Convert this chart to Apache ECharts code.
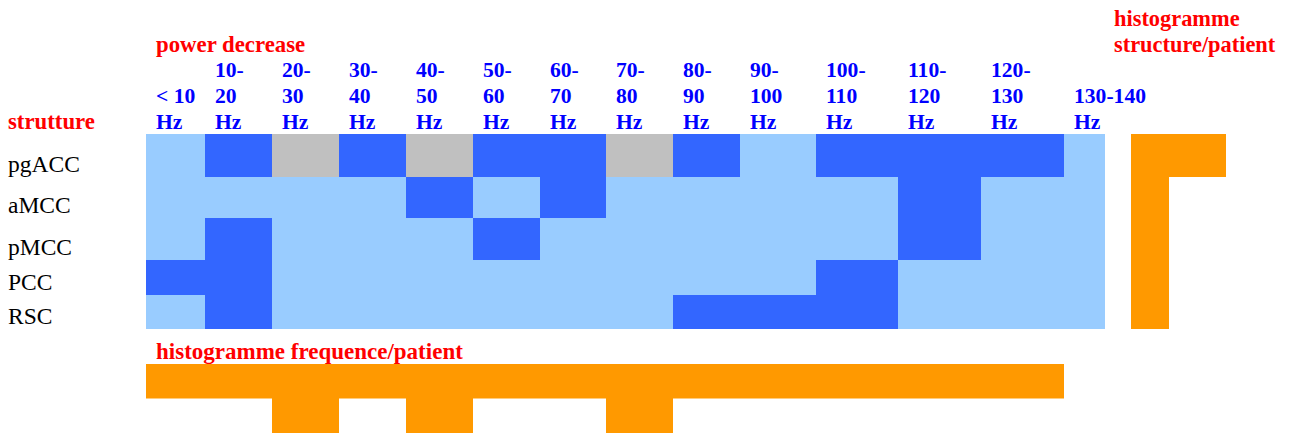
<!DOCTYPE html>
<html>
<head>
<meta charset="utf-8">
<script src="https://cdn.jsdelivr.net/npm/echarts@6/dist/echarts.min.js"></script>
<style>
html,body{margin:0;padding:0;background:#fff;}
#chart{width:1290px;height:435px;}
</style>
</head>
<body>
<div id="chart"></div>
<script>
// ---------- DATA ----------
const structures = ['pgACC', 'aMCC', 'pMCC', 'PCC', 'RSC'];
const freqLabels = ['< 10\nHz', '10-\n20\nHz', '20-\n30\nHz', '30-\n40\nHz', '40-\n50\nHz', '50-\n60\nHz',
  '60-\n70\nHz', '70-\n80\nHz', '80-\n90\nHz', '90-\n100\nHz', '100-\n110\nHz', '110-\n120\nHz',
  '120-\n130\nHz', '130-140\nHz'];
// 0 = no decrease, 1 = power decrease, 2 = not available
const pgACC = [0, 1, 2, 1, 2, 1, 1, 2, 1, 0, 1, 1, 1, 0];
const aMCC  = [0, 0, 0, 0, 1, 0, 1, 0, 0, 0, 0, 1, 0, 0];
const pMCC  = [0, 1, 0, 0, 0, 1, 0, 0, 0, 0, 0, 1, 0, 0];
const PCC   = [1, 1, 0, 0, 0, 0, 0, 0, 0, 0, 1, 0, 0, 0];
const RSC   = [0, 1, 0, 0, 0, 0, 0, 0, 1, 1, 1, 0, 0, 0];
const freqPerPatient = [1, 1, 2, 1, 2, 1, 1, 2, 1, 1, 1, 1, 1, 0];
const structPerPatient = [2.5, 1, 1, 1, 1];

// ---------- LAYOUT (table geometry, not data) ----------
const colWidths = [59, 67, 67, 67, 67, 67, 66, 67, 67, 76, 82, 83, 83, 41];
const rowHeights = [43, 41, 42, 35, 34];
const colEdges = [0]; colWidths.forEach(w => colEdges.push(colEdges[colEdges.length - 1] + w));
const rowEdges = [0]; rowHeights.forEach(h => rowEdges.push(rowEdges[rowEdges.length - 1] + h));
const totalW = colEdges[colEdges.length - 1];
const totalH = rowEdges[rowEdges.length - 1];

const cellColors = ['#99CCFF', '#3366FF', '#C0C0C0'];
const SERIF = '"Liberation Serif", "Times New Roman", serif';
const RED = '#FF0000', BLUE = '#0000FF', ORANGE = '#FF9900';
const TITLE_FONT = 'bold 22.8px ' + SERIF;

const rows = [pgACC, aMCC, pMCC, PCC, RSC];
const heatData = [];
rows.forEach((r, ri) => r.forEach((v, ci) => heatData.push([ci, ri, v])));

const chart = echarts.init(document.getElementById('chart'), null, {renderer: 'svg'});

const option = {
  animation: false,
  backgroundColor: '#ffffff',
  grid: [
    {left: 146, top: 134, width: totalW, height: totalH},
    {left: 1131, top: 134, width: 95, height: totalH},
    {left: 146, top: 364, width: totalW, height: 69}
  ],
  xAxis: [
    {gridIndex: 0, type: 'value', min: 0, max: totalW, show: false},
    {gridIndex: 1, type: 'value', min: 0, max: 2.5, show: false},
    {gridIndex: 2, type: 'value', min: 0, max: totalW, show: false}
  ],
  yAxis: [
    {gridIndex: 0, type: 'value', min: 0, max: totalH, inverse: true, show: false},
    {gridIndex: 1, type: 'value', min: 0, max: totalH, inverse: true, show: false},
    {gridIndex: 2, type: 'value', min: 0, max: 2, inverse: true, show: false}
  ],
  graphic: [
    {type: 'text', x: 156, y: 44.3, silent: true,
      style: {text: 'power decrease', font: TITLE_FONT, fill: RED, textAlign: 'left', textVerticalAlign: 'middle'}},
    {type: 'text', x: 8, y: 121.8, silent: true,
      style: {text: 'strutture', font: TITLE_FONT, fill: RED, textAlign: 'left', textVerticalAlign: 'middle'}},
    {type: 'text', x: 1114, y: 57.5, silent: true,
      style: {text: 'histogramme\nstructure/patient', font: 'bold 22.4px ' + SERIF, lineHeight: 26, fill: RED, textAlign: 'left', textVerticalAlign: 'bottom'}},
    {type: 'text', x: 156, y: 351.6, silent: true,
      style: {text: 'histogramme frequence/patient', font: 'bold 23px ' + SERIF, fill: RED, textAlign: 'left', textVerticalAlign: 'middle'}}
  ],
  series: [
    {
      type: 'custom', xAxisIndex: 0, yAxisIndex: 0, silent: true,
      data: heatData,
      renderItem: function (params, api) {
        const ci = api.value(0), ri = api.value(1), v = api.value(2);
        const p0 = api.coord([colEdges[ci], rowEdges[ri]]);
        const p1 = api.coord([colEdges[ci + 1], rowEdges[ri + 1]]);
        return {type: 'rect', shape: {x: p0[0], y: p0[1], width: p1[0] - p0[0], height: p1[1] - p0[1]},
          style: {fill: cellColors[v]}};
      }
    },
    {
      type: 'custom', xAxisIndex: 0, yAxisIndex: 0, silent: true,
      data: freqLabels.map((l, i) => [i, 0]),
      renderItem: function (params, api) {
        const ci = api.value(0);
        const p = api.coord([colEdges[ci], 0]);
        return {type: 'text', x: p[0] + 10, y: p[1] + 1,
          style: {text: freqLabels[ci], font: 'bold 21.6px ' + SERIF, fill: BLUE, lineHeight: 26,
            textAlign: 'left', textVerticalAlign: 'bottom'}};
      }
    },
    {
      type: 'custom', xAxisIndex: 0, yAxisIndex: 0, silent: true,
      data: structures.map((s, i) => [0, i]),
      renderItem: function (params, api) {
        const ri = api.value(1);
        const p = api.coord([0, rowEdges[ri + 1]]);
        return {type: 'text', x: 8, y: p[1] - 13,
          style: {text: structures[ri], font: '23.5px ' + SERIF, fill: '#000000',
            textAlign: 'left', textVerticalAlign: 'middle'}};
      }
    },
    {
      type: 'custom', xAxisIndex: 1, yAxisIndex: 1, silent: true,
      data: structPerPatient.map((v, i) => [v, i]),
      renderItem: function (params, api) {
        const v = api.value(0), ri = api.value(1);
        const p0 = api.coord([0, rowEdges[ri]]);
        const p1 = api.coord([v, rowEdges[ri + 1]]);
        return {type: 'rect', shape: {x: p0[0], y: p0[1], width: p1[0] - p0[0], height: p1[1] - p0[1]},
          style: {fill: ORANGE}};
      }
    },
    {
      type: 'custom', xAxisIndex: 2, yAxisIndex: 2, silent: true,
      data: freqPerPatient.map((v, i) => [i, v]),
      renderItem: function (params, api) {
        const ci = api.value(0), v = api.value(1);
        const p0 = api.coord([colEdges[ci], 0]);
        const p1 = api.coord([colEdges[ci + 1], v]);
        return {type: 'rect', shape: {x: p0[0], y: p0[1], width: p1[0] - p0[0], height: p1[1] - p0[1]},
          style: {fill: ORANGE}};
      }
    }
  ]
};
chart.setOption(option);
</script>
</body>
</html>
